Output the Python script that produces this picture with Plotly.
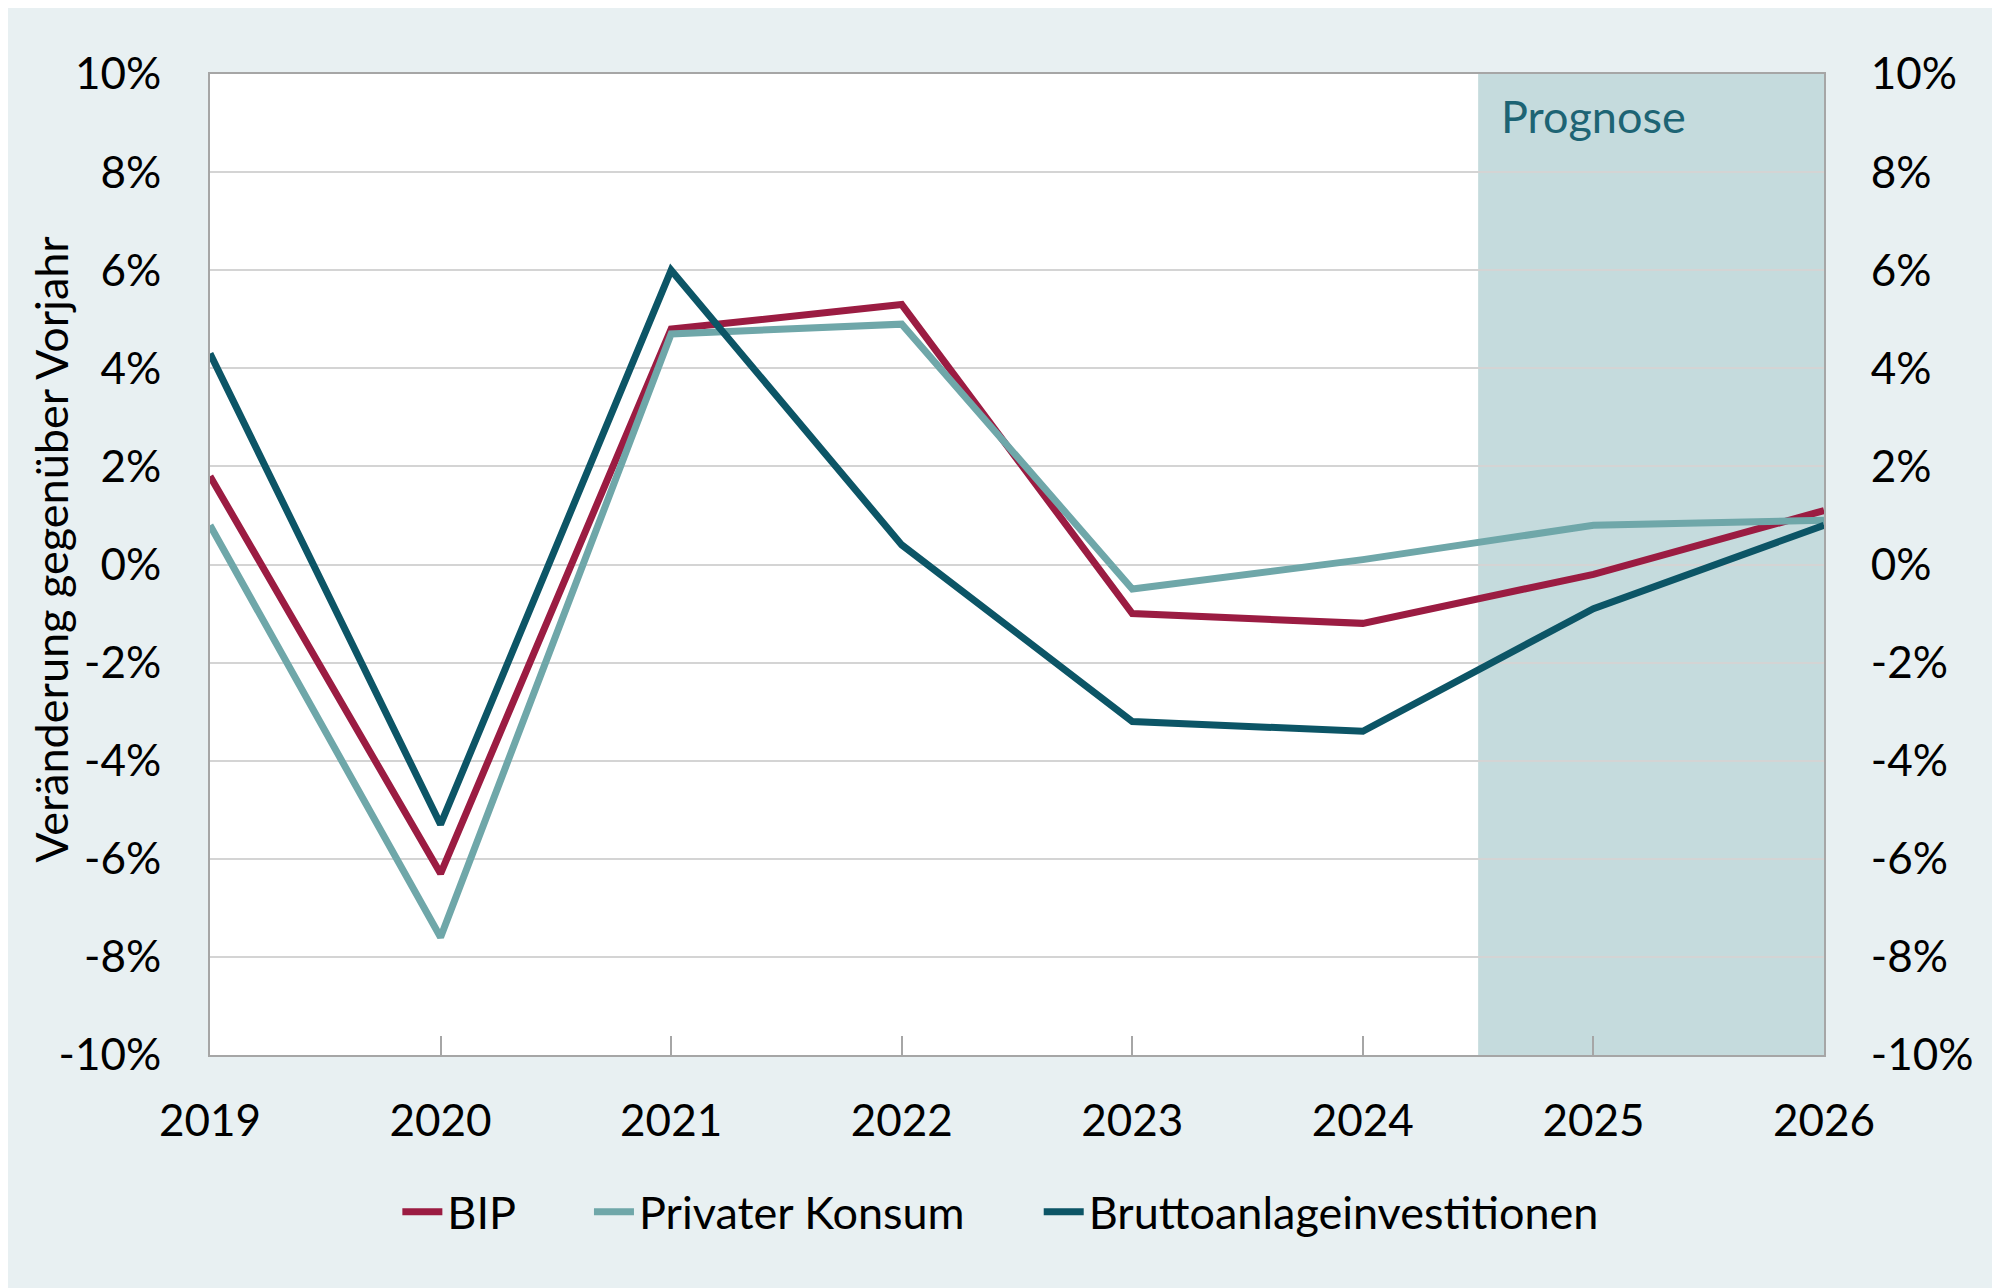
import plotly.graph_objects as go

years = [2019, 2020, 2021, 2022, 2023, 2024, 2025, 2026]
bip = [1.8, -6.3, 4.8, 5.3, -1.0, -1.2, -0.2, 1.1]
konsum = [0.8, -7.6, 4.7, 4.9, -0.5, 0.1, 0.8, 0.9]
brutto = [4.3, -5.3, 6.0, 0.4, -3.2, -3.4, -0.9, 0.8]
series_names = ["BIP", "Privater Konsum", "Bruttoanlageinvestitionen"]
series_colors = ["#9B1C42", "#6FA7A9", "#0C5566"]
prognose_start = 2024.5
prognose_end = 2026
y_ticks = [-10, -8, -6, -4, -2, 0, 2, 4, 6, 8, 10]
y_ticklabels = [f"{v}%" for v in y_ticks]

FONT = "Lato"
NB = "\u00a0"
fig = go.Figure()
for i, (name, vals, col) in enumerate(zip(series_names, [bip, konsum, brutto], series_colors)):
    label = name + (NB * 6 if i < 2 else "")
    fig.add_trace(go.Scatter(x=years, y=vals, name=label, mode="lines",
                             line=dict(color=col, width=7)))
# invisible trace for right axis
fig.add_trace(go.Scatter(x=years, y=bip, yaxis="y2", mode="lines",
                         line=dict(width=0), showlegend=False, hoverinfo="skip", opacity=0))

fig.add_shape(type="rect", xref="x", yref="paper", x0=prognose_start, x1=prognose_end,
              y0=0, y1=1, fillcolor="#C5DBDD", line=dict(width=0), layer="below")
fig.add_annotation(x=2025, y=9.15, xref="x", yref="y", text="Prognose", showarrow=False,
                   font=dict(family=FONT, size=45, color="#1D6474"), yanchor="middle")
fig.add_annotation(x=0, y=0.515, xref="paper", yref="paper", text="Veränderung gegenüber Vorjahr",
                   showarrow=False, textangle=-90, xanchor="center", yanchor="middle",
                   xshift=-159, font=dict(family=FONT, size=45, color="black"))

axis_line = "#A6A6A6"
fig.update_layout(
    width=2000, height=1288,
    paper_bgcolor="#E8F0F2", plot_bgcolor="white",
    margin=dict(l=202, r=184, t=66, b=241),
    font=dict(family=FONT, size=44, color="black"),
    showlegend=True,
    legend=dict(orientation="h", x=0.49, xanchor="center", y=-0.16, yanchor="middle",
                font=dict(family=FONT, size=45), itemwidth=40, bgcolor="rgba(0,0,0,0)"),
    xaxis=dict(range=[2019, 2026], tickmode="array", tickvals=years,
               ticktext=[str(y) for y in years], showgrid=False,
               showline=True, linecolor=axis_line, linewidth=2, mirror=True,
               ticks="inside", ticklen=19, tickcolor=axis_line, tickwidth=2,
               ticklabelstandoff=26, zeroline=False),
    yaxis=dict(range=[-10, 10], tickmode="array", tickvals=y_ticks, ticktext=y_ticklabels,
               showgrid=True, gridcolor="#D4D4D4", gridwidth=2,
               showline=True, linecolor=axis_line, linewidth=2, zeroline=False,
               ticks="", ticklabelstandoff=38),
    yaxis2=dict(range=[-10, 10], overlaying="y", side="right", tickmode="array",
                tickvals=y_ticks, ticktext=y_ticklabels, showgrid=False,
                showline=True, linecolor=axis_line, linewidth=2, zeroline=False,
                ticks="", ticklabelstandoff=36),
)
fig.write_html("out.html")
